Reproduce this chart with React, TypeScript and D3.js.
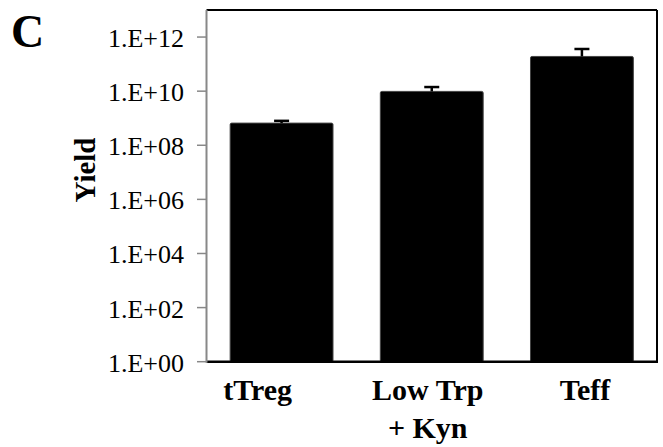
import React from "react";
import * as d3 from "d3";

// Cell yield per culture condition (log scale), with upper error
const categories = ["tTreg", "Low Trp\n+ Kyn", "Teff"];
const yieldMeans = [6.6e8, 9.8e9, 1.92e11];
const yieldErrors = [1.4e8, 4.4e9, 1.7e11];
const yTickExponents = [0, 2, 4, 6, 8, 10, 12];
const labelNudge = [-24, -4, 3];

const W = 663;
const H = 447;
const margin = { left: 206.5, right: 6, top: 10, bottom: 85.3 };

const formatTick = (e: number) => `1.E+${String(e).padStart(2, "0")}`;

const serif = '"Liberation Serif", "Times New Roman", Times, serif';

export default function App() {
  const x = d3
    .scaleBand<string>()
    .domain(categories)
    .range([margin.left, W - margin.right])
    .paddingInner(0.315)
    .paddingOuter(0.1575);

  const y = d3
    .scaleLog()
    .domain([1, 1e13])
    .range([H - margin.bottom, margin.top]);

  const y0 = y(1);

  return (
    <div style={{ position: "absolute", left: 0, top: 0 }}>
      <svg width={W} height={H} style={{ display: "block", background: "#fff", fontFamily: serif }}>
        {/* panel letter */}
        <text x={11} y={47} fontFamily={serif} fontWeight="bold" fontSize={46}>
          C
        </text>

        {/* plot frame: top and right black */}
        <line x1={margin.left} x2={W - margin.right} y1={margin.top} y2={margin.top} stroke="#000" strokeWidth={2} />
        <line x1={W - margin.right} x2={W - margin.right} y1={margin.top} y2={y0} stroke="#000" strokeWidth={2} />

        {/* bars */}
        {categories.map((c, i) => (
          <rect
            key={c}
            x={x(c)!}
            y={y(yieldMeans[i])}
            width={x.bandwidth()}
            height={y0 - y(yieldMeans[i])}
            fill="#000"
            stroke="#444"
            strokeWidth={1}
            rx={1.5}
          />
        ))}

        {/* error bars (upper) */}
        {categories.map((c, i) => {
          const cx = x(c)! + x.bandwidth() / 2;
          const top = y(yieldMeans[i] + yieldErrors[i]);
          return (
            <g key={c + "-err"} stroke="#000" strokeWidth={2.5}>
              <line x1={cx} x2={cx} y1={y(yieldMeans[i])} y2={top} />
              <line x1={cx - 7.5} x2={cx + 7.5} y1={top} y2={top} />
            </g>
          );
        })}

        {/* bottom axis */}
        <line x1={margin.left} x2={W - margin.right + 1} y1={y0} y2={y0} stroke="#000" strokeWidth={2.5} />

        {/* left axis */}
        <line x1={margin.left} x2={margin.left} y1={margin.top} y2={y0 + 1} stroke="#888" strokeWidth={2} />
        {yTickExponents.map((e) => {
          const ty = y(Math.pow(10, e));
          return (
            <g key={e}>
              <line x1={margin.left - 9.5} x2={margin.left} y1={ty} y2={ty} stroke="#888" strokeWidth={1.5} />
              <text x={184} y={ty + 10} textAnchor="end" fontFamily={serif} fontSize={26} fill="#000">
                {formatTick(e)}
              </text>
            </g>
          );
        })}

        {/* category labels */}
        {categories.map((c, i) => {
          const cx = x(c)! + x.bandwidth() / 2 + labelNudge[i];
          return (
            <text key={c + "-lbl"} textAnchor="middle" fontFamily={serif} fontWeight="bold" fontSize={30} fill="#000">
              {c.split("\n").map((line, j) => (
                <tspan key={j} x={cx} y={400 + j * 38}>
                  {line}
                </tspan>
              ))}
            </text>
          );
        })}

        {/* y axis title */}
        <text
          transform="translate(95,170) rotate(-90)"
          textAnchor="middle"
          fontFamily={serif}
          fontWeight="bold"
          fontSize={29}
          fill="#000"
        >
          Yield
        </text>
      </svg>
    </div>
  );
}
